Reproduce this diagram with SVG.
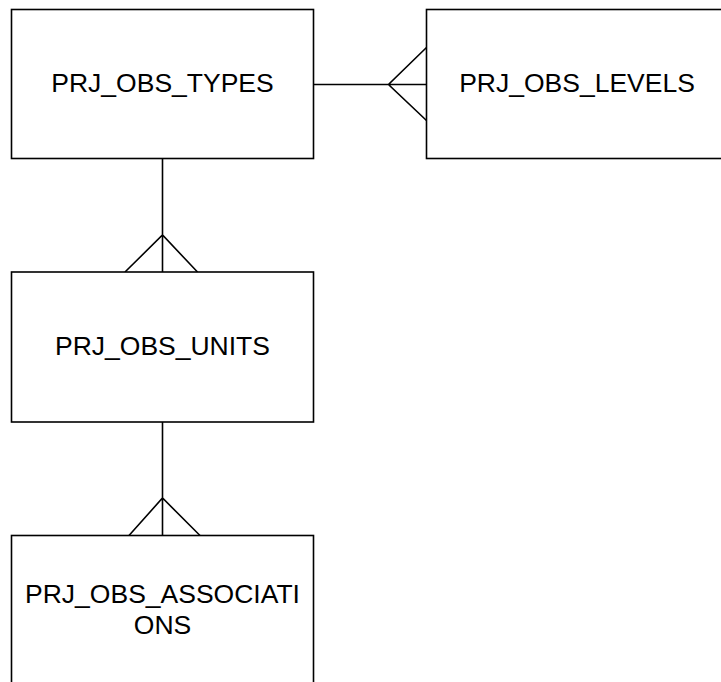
<svg xmlns="http://www.w3.org/2000/svg" width="721" height="682" viewBox="0 0 721 682">
<style>
.box{fill:#fff;stroke:#000;stroke-width:1.6}
.lbl{font-family:"Liberation Sans",Arial,sans-serif;font-size:26.5px;fill:#000;text-anchor:middle}
.con{fill:none;stroke:#000;stroke-width:1.6}
</style>
<rect width="721" height="682" fill="#fff"/>
<g id="connectors">
<path class="con" d="M313.5 84.5H426.5M426.5 47.5L388.5 84.5L426.5 120.5"/>
<path class="con" d="M162.5 158.5V272M125 272L162.5 235L197.5 272"/>
<path class="con" d="M162.5 422V535.5M129 535.5L162.5 498L200 535.5"/>
</g>
<g id="prj_obs_types">
<rect class="box" x="11.5" y="9.5" width="302" height="149"/>
<text class="lbl" x="162.5" y="92">PRJ_OBS_TYPES</text>
</g>
<g id="prj_obs_levels">
<rect class="box" x="426.5" y="9.5" width="302" height="149"/>
<text class="lbl" x="577" y="92">PRJ_OBS_LEVELS</text>
</g>
<g id="prj_obs_units">
<rect class="box" x="11.5" y="272" width="302" height="150"/>
<text class="lbl" x="162.5" y="355">PRJ_OBS_UNITS</text>
</g>
<g id="prj_obs_associations">
<rect class="box" x="11.5" y="535.5" width="302" height="150"/>
<text class="lbl" x="162.5" y="603">PRJ_OBS_ASSOCIATI</text>
<text class="lbl" x="162.5" y="633.5">ONS</text>
</g>
</svg>
